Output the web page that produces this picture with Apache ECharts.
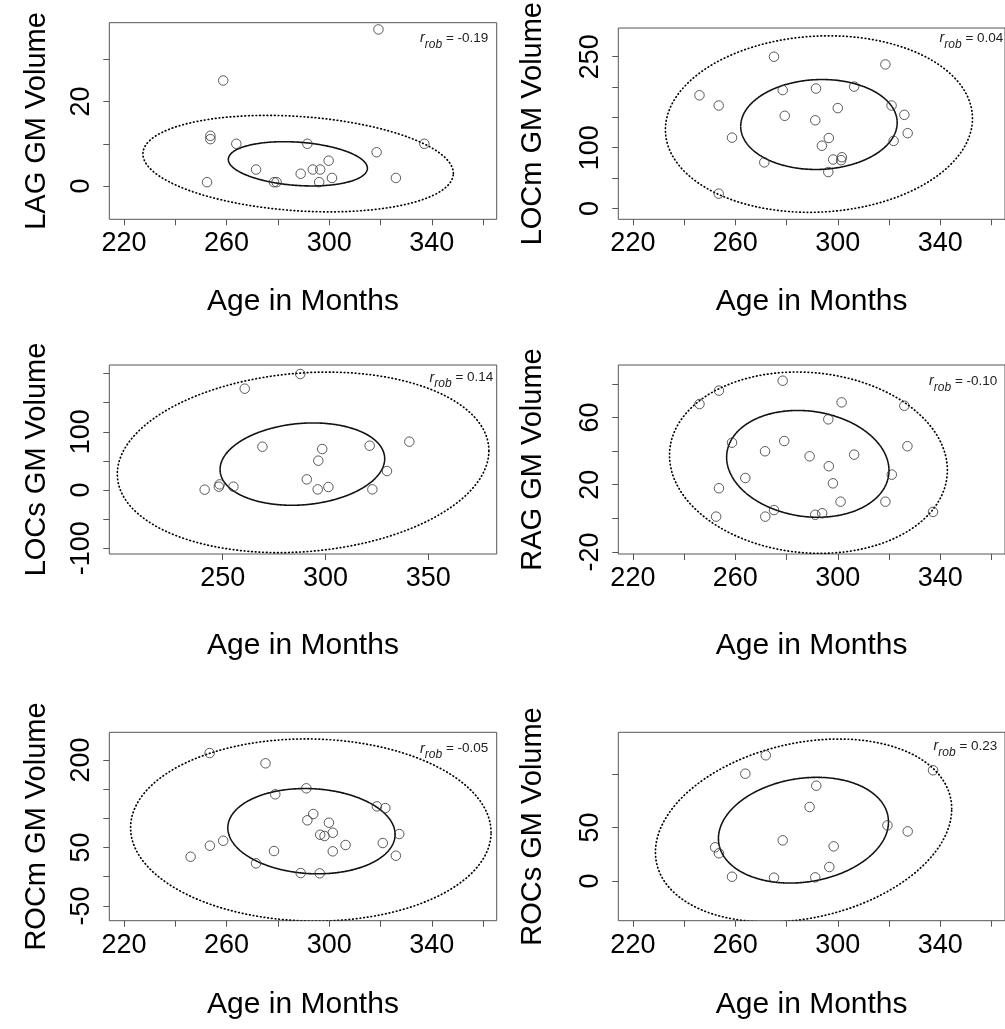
<!DOCTYPE html>
<html><head><meta charset="utf-8">
<script src="https://cdn.jsdelivr.net/npm/echarts@6/dist/echarts.min.js"></script>
<style>html,body{margin:0;padding:0;background:#fff}#c{width:1005px;height:1029px}</style>
</head><body><div id="c"></div>
<script>
// ---------- data ----------
const xTitle = 'Age in Months';

const lagAge = [319.2, 258.7, 253.7, 253.7, 263.8, 291.5, 337.1, 318.5, 299.8, 271.5, 293.6, 296.5, 288.9, 301.1, 326.0, 252.4, 278.5, 279.5, 296.1];
const lagVol = [37.1, 25.0, 11.9, 11.1, 10.0, 10.0, 10.0, 8.0, 6.0, 3.9, 3.9, 3.9, 2.9, 1.9, 1.9, 0.9, 0.9, 0.9, 0.9];
const lagOuter = [287.9, 5.3, 60.5, -2.3, 11.2];   // centre x, centre y, x half-width, y offset at x-extreme, y half-height term
const lagInner = [287.8, 5.25, 27.1, -1.05, 5.14];

const locmAge = [275.1, 318.6, 246.0, 278.5, 291.5, 306.4, 253.5, 300.0, 321.0, 326.0, 279.3, 291.2, 327.3, 258.7, 296.5, 321.8, 293.8, 271.3, 298.2, 301.6, 301.3, 296.3, 253.5];
const locmVol = [250, 237.3, 186.4, 195, 197.6, 200.8, 169.6, 165.3, 169.6, 154.2, 152.6, 145.2, 124, 116.6, 116, 111.3, 103.3, 75.8, 80.6, 84.3, 79.5, 59.9, 24.3];
const locmOuter = [292.65, 139, 59.95, 9.25, 145.2];
const locmInner = [292.65, 138.3, 30.55, 3, 74.1];

const locsAge = [287.7, 260.7, 269.3, 298.4, 321.5, 340.8, 296.5, 329.9, 290.9, 248.5, 248.1, 255.2, 241.2, 296.2, 301.4, 322.8];
const locsVol = [199.2, 174, 74.4, 70.4, 76.1, 83, 50.4, 32.6, 18.3, 9.7, 5.7, 5.7, 0.6, 1.1, 5.2, 1.1];
const locsOuter = [289.1, 47.5, 90.4, 20, 153.7];
const locsInner = [288.75, 44.5, 40.05, 9.2, 70.1];

const ragAge = [278.5, 253.6, 246.0, 301.5, 326.0, 296.3, 258.7, 279.1, 271.6, 327.2, 289.0, 306.4, 296.5, 321.1, 263.9, 298.1, 253.6, 301.1, 318.6, 275.1, 337.2, 252.5, 271.7, 291.2, 293.9];
const ragVol = [81.9, 76, 68, 69, 67, 58.9, 45, 46, 39.9, 42.9, 36.9, 37.9, 31, 26, 24, 20.8, 17.9, 9.9, 9.9, 4.9, 3.8, 1, 1, 2.1, 3];
const ragOuter = [288.55, 33.1, 54.25, -4.45, 53.8];
const ragInner = [288.3, 32.4, 31.7, -3.95, 31.55];

const rocmAge = [253.4, 275.2, 291.1, 279.0, 318.6, 321.9, 293.8, 291.5, 299.9, 301.4, 296.5, 298.2, 327.3, 258.7, 253.5, 306.4, 320.9, 246.0, 278.5, 301.4, 326.0, 271.5, 288.9, 296.3];
const rocmVol = [211.8, 194.2, 151.4, 141.1, 120.5, 117.6, 107.4, 96.6, 92.5, 75.3, 71.9, 69.7, 73.1, 61.6, 53.1, 54.3, 57.7, 34.2, 44, 43.5, 36, 22.9, 6.3, 5.8];
const rocmOuter = [292.85, 80, 70.25, -4, 155.9];
const rocmInner = [293.1, 78, 32.6, -5.6, 72.8];

const rocsAge = [271.9, 337.2, 263.9, 291.6, 289.0, 319.4, 327.3, 278.5, 298.4, 252.1, 253.6, 296.7, 258.7, 275.1, 291.2];
const rocsVol = [117.5, 103.5, 100.3, 89.1, 69.2, 52, 46.4, 38, 32.4, 31.5, 25.9, 13.1, 4, 3.1, 3.4];
const rocsOuter = [286.65, 47.2, 57.85, 20.25, 83.07];
const rocsInner = [286.6, 47.5, 33.2, 7.8, 48.8];

const yTitles = ['LAG GM Volume', 'LOCm GM Volume', 'LOCs GM Volume', 'RAG GM Volume', 'ROCm GM Volume', 'ROCs GM Volume'];
const rRob = ['-0.19', '0.04', '0.14', '-0.10', '-0.05', '0.23'];

const ageTicks = [220, 240, 260, 280, 300, 320, 340, 360];
const ageLabels = [220, 260, 300, 340];
const ageTicksWide = [250, 300, 350];
const lagTicks = [0, 10, 20, 30], lagLabels = [0, 20];
const locmTicks = [0, 50, 100, 150, 200, 250], locmLabels = [0, 100, 250];
const locsTicks = [-100, -50, 0, 50, 100, 150, 200], locsLabels = [-100, 0, 100];
const ragTicks = [-20, 0, 20, 40, 60, 80], ragLabels = [-20, 20, 60];
const rocmTicks = [-50, 0, 50, 100, 150, 200], rocmLabels = [-50, 50, 200];
const rocsTicks = [0, 50, 100], rocsLabels = [0, 50];

// ---------- layout ----------
const panels = [
  {g:[109.3, 22.7, 387.4, 196.6], xr:[214.3, 365.3], yr:[-7.9, 38.7], xt:ageTicks, xl:ageLabels, yt:lagTicks, yl:lagLabels, age:lagAge, vol:lagVol, eo:lagOuter, ei:lagInner, xg:67, yg:58, rx:488.3, ry:38},
  {g:[618.3, 21, 387.4, 198.3], xr:[214.3, 365.3], yr:[-18, 297.3], xt:ageTicks, xl:ageLabels, yt:locmTicks, yl:locmLabels, age:locmAge, vol:locmVol, eo:locmOuter, ei:locmInner, xg:67, yg:70.6, rx:1003.3, ry:38},
  {g:[109.3, 365, 387.4, 189], xr:[194.8, 383.3], yr:[-109.9, 214.7], xt:ageTicksWide, xl:ageTicksWide, yt:locsTicks, yl:locsLabels, age:locsAge, vol:locsVol, eo:locsOuter, ei:locsInner, xg:77, yg:58, rx:493.3, ry:377.5},
  {g:[618.3, 365, 387.4, 189], xr:[214.3, 365.3], yr:[-21.25, 91.25], xt:ageTicks, xl:ageLabels, yt:ragTicks, yl:ragLabels, age:ragAge, vol:ragVol, eo:ragOuter, ei:ragInner, xg:77, yg:70.6, rx:997.3, ry:381},
  {g:[109.3, 732.3, 387.4, 188.4], xr:[214.3, 365.3], yr:[-75.3, 247.3], xt:ageTicks, xl:ageLabels, yt:rocmTicks, yl:rocmLabels, age:rocmAge, vol:rocmVol, eo:rocmOuter, ei:rocmInner, xg:69, yg:58, rx:488.3, ry:748.5},
  {g:[618.3, 732.3, 387.4, 188.4], xr:[214.3, 365.3], yr:[-37.1, 139], xt:ageTicks, xl:ageLabels, yt:rocsTicks, yl:rocsLabels, age:rocsAge, vol:rocsVol, eo:rocsOuter, ei:rocsInner, xg:69, yg:70.6, rx:997.3, ry:746}
];

const FONT = '"Liberation Sans", Arial, Helvetica, sans-serif';
const AX = '#555';
const grids = [], xAxes = [], yAxes = [], series = [], graphics = [];

function ellipseItem(lineWidth, dash, color) {
  return function (params, api) {
    const cx = api.value(0), cy = api.value(1), a = api.value(2), c = api.value(3), d = api.value(4);
    const pts = [];
    for (let i = 0; i <= 240; i++) {
      const t = i / 240 * Math.PI * 2;
      pts.push(api.coord([cx + a * Math.cos(t), cy + c * Math.cos(t) + d * Math.sin(t)]));
    }
    return {type: 'polyline', silent: true, shape: {points: pts},
      style: {stroke: color, fill: null, lineWidth: lineWidth, lineDash: dash, lineCap: 'round'}};
  };
}

const mctx = document.createElement('canvas').getContext('2d');
function tw(t, f) { mctx.font = f; return mctx.measureText(t).width; }

panels.forEach((p, i) => {
  grids.push({left: p.g[0], top: p.g[1], width: p.g[2], height: p.g[3], show: true, borderColor: AX, borderWidth: 1, backgroundColor: 'transparent'});
  xAxes.push({type: 'value', gridIndex: i, min: p.xr[0], max: p.xr[1], position: 'bottom',
    name: xTitle, nameLocation: 'middle', nameGap: p.xg,
    nameTextStyle: {fontFamily: FONT, fontSize: 30, color: '#000'},
    axisLine: {show: false, onZero: false}, splitLine: {show: false},
    axisTick: {show: true, customValues: p.xt, length: 6, lineStyle: {color: AX}},
    axisLabel: {customValues: p.xl, fontFamily: FONT, fontSize: 27, color: '#000', margin: 11}});
  yAxes.push({type: 'value', gridIndex: i, min: p.yr[0], max: p.yr[1], position: 'left',
    name: yTitles[i], nameLocation: 'middle', nameGap: p.yg,
    nameTextStyle: {fontFamily: FONT, fontSize: 29, color: '#000'},
    axisLine: {show: false, onZero: false}, splitLine: {show: false},
    axisTick: {show: true, customValues: p.yt, length: 6, lineStyle: {color: AX}},
    axisLabel: {customValues: p.yl, rotate: 90, fontFamily: FONT, fontSize: 27, color: '#000', margin: 14}});
  series.push({type: 'custom', xAxisIndex: i, yAxisIndex: i, clip: true, silent: true,
    renderItem: ellipseItem(1.7, [0.6, 3.1], '#000'), data: [p.eo], encode: {x: 0, y: 1}});
  series.push({type: 'custom', xAxisIndex: i, yAxisIndex: i, clip: true, silent: true,
    renderItem: ellipseItem(1.6, [1.6, 0.9], '#111'), data: [p.ei], encode: {x: 0, y: 1}});
  series.push({type: 'scatter', xAxisIndex: i, yAxisIndex: i, symbol: 'circle', symbolSize: 9.5,
    data: p.age.map((a, k) => [a, p.vol[k]]),
    itemStyle: {color: 'rgba(0,0,0,0)', borderColor: '#333', borderWidth: 1},
    emphasis: {disabled: true}, silent: true});
  // r_rob annotation
  const fMain = '13.5px ' + FONT, fIt = 'italic 14.5px ' + FONT, fSub = 'italic 12px ' + FONT;
  const mainTxt = ' = ' + rRob[i];
  const wMain = tw(mainTxt, fMain), wSub = tw('rob', fSub);
  graphics.push({type: 'text', x: p.rx, y: p.ry, silent: true,
    style: {text: mainTxt, font: fMain, fill: '#222', align: 'right', verticalAlign: 'middle'}});
  graphics.push({type: 'text', x: p.rx - wMain, y: p.ry + 6.5, silent: true,
    style: {text: 'rob', font: fSub, fill: '#222', align: 'right', verticalAlign: 'middle'}});
  graphics.push({type: 'text', x: p.rx - wMain - wSub, y: p.ry, silent: true,
    style: {text: 'r', font: fIt, fill: '#222', align: 'right', verticalAlign: 'middle'}});
});

const chart = echarts.init(document.getElementById('c'), null, {renderer: 'canvas'});
chart.setOption({
  animation: false, backgroundColor: '#fff',
  grid: grids, xAxis: xAxes, yAxis: yAxes, series: series, graphic: graphics
});
</script>
</body></html>
